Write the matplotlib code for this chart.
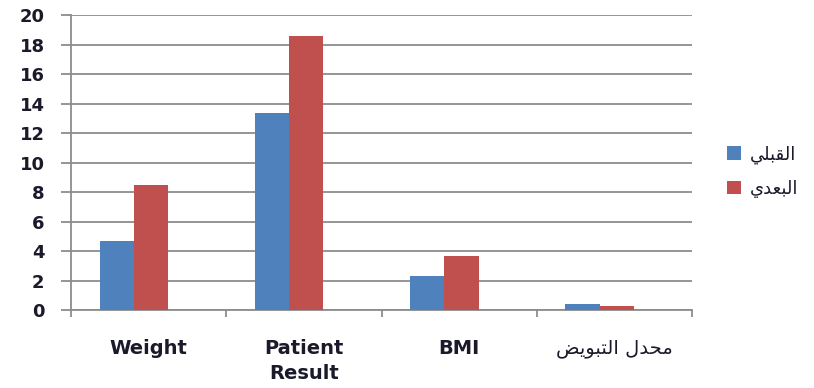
import matplotlib.pyplot as plt
import numpy as np

# data
categories = ["Weight", "Patient\nResult", "BMI",
              # "محدل التبويض" in Arabic presentation forms, visual order
              "\uFEBE\uFEF3\uFEEE\uFE92\uFE98\uFEDF\uFE8D \uFEDD\uFEAA\uFEA4\uFEE3"]
before_label = "\uFEF2\uFEE0\uFE92\uFED8\uFEDF\uFE8D"   # القبلي
after_label = "\uFEF1\uFEAA\uFECC\uFE92\uFEDF\uFE8D"    # البعدي
before_vals = [4.7, 13.35, 2.3, 0.4]
after_vals = [8.5, 18.55, 3.65, 0.3]

BLUE = "#4F81BD"
RED = "#C0504D"
GRID = "#8C8C8C"
TXT = "#1A1A2A"

fig = plt.figure(figsize=(8.14, 3.88), dpi=100)
ax = fig.add_axes([71 / 814, 1 - 310 / 388, (692 - 71) / 814, (310 - 15) / 388])

x = np.arange(len(categories)) + 0.5
shift = -0.095
w = 0.22
ax.bar(x + shift - w / 2, before_vals, w, color=BLUE, label=before_label, zorder=3)
ax.bar(x + shift + w / 2, after_vals, w, color=RED, label=after_label, zorder=3)

ax.set_xlim(0, len(categories))
ax.set_ylim(0, 20)
ax.set_yticks(np.arange(0, 21, 2))
ax.yaxis.grid(True, color=GRID, linewidth=1.3, zorder=0)
ax.set_axisbelow(True)

for s in ["top", "right"]:
    ax.spines[s].set_visible(False)
ax.spines["left"].set_color(GRID)
ax.spines["bottom"].set_color(GRID)
ax.spines["left"].set_linewidth(1.3)
ax.spines["bottom"].set_linewidth(1.3)

ax.tick_params(axis="y", length=7, width=1.3, color=GRID, pad=12,
               labelsize=13, labelcolor=TXT)
for t in ax.get_yticklabels():
    t.set_fontweight("bold")

# category boundaries as major ticks, labels at centres as minor ticks
ax.set_xticks(np.arange(0, len(categories) + 1))
ax.set_xticklabels([])
ax.tick_params(axis="x", which="major", length=5, width=1.3, color=GRID)
ax.set_xticks(x, minor=True)
ax.set_xticklabels(categories, minor=True, fontsize=14, color=TXT,
                   linespacing=1.4, family=["DejaVu Sans"])
ax.tick_params(axis="x", which="minor", length=0, pad=21)
for t in ax.get_xticklabels(minor=True):
    t.set_fontweight("bold")
ax.get_xticklabels(minor=True)[-1].set_fontweight("normal")

leg = ax.legend(loc="center left", bbox_to_anchor=(1.03, 0.47), frameon=False,
                fontsize=13, handlelength=0.8, handleheight=0.8,
                handletextpad=0.5, labelspacing=0.9)
for t in leg.get_texts():
    t.set_color(TXT)

fig.savefig("out.png", dpi=100)
